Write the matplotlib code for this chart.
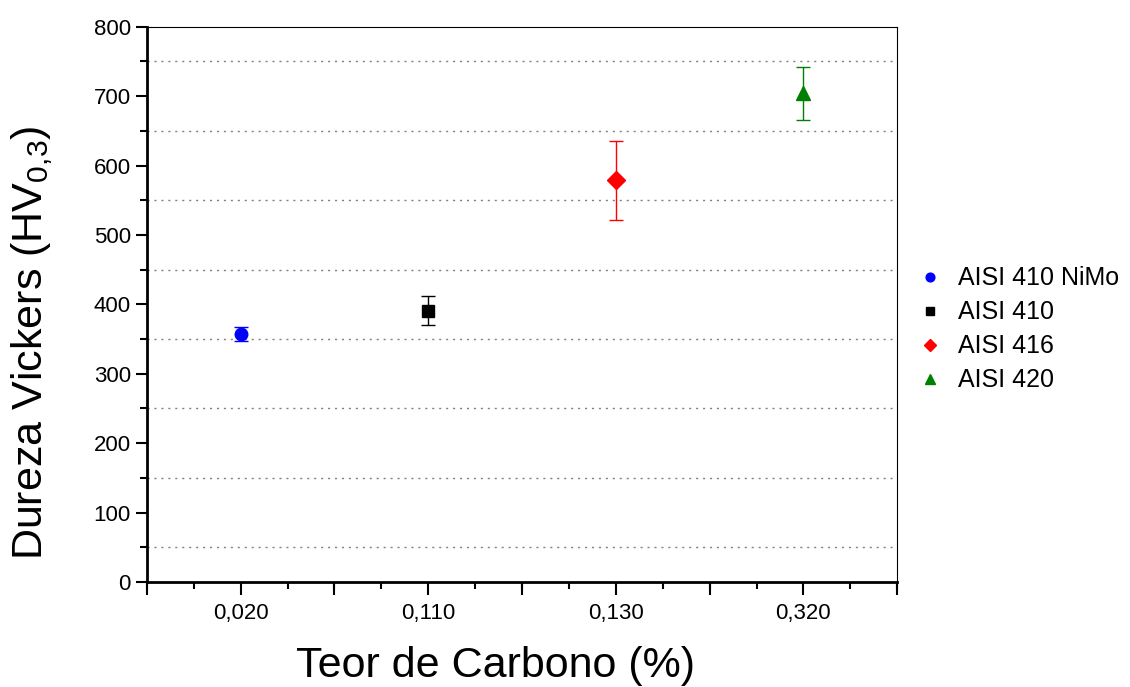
import numpy as np
import matplotlib as mpl
mpl.use('Agg')
import matplotlib.pyplot as plt
from matplotlib.ticker import MultipleLocator, FixedLocator

plt.rcParams['font.family'] = ['Liberation Sans', 'DejaVu Sans']
plt.rcParams['mathtext.fontset'] = 'custom'
plt.rcParams['mathtext.rm'] = 'Liberation Sans'
plt.rcParams['mathtext.it'] = 'Liberation Sans'

# data
labels = ['0,020', '0,110', '0,130', '0,320']
series = ['AISI 410 NiMo', 'AISI 410', 'AISI 416', 'AISI 420']
hv = [357, 391, 579, 704]
hv_err = [10, 21, 57, 38]
colors = ['blue', 'black', 'red', 'green']
markers = ['o', 's', 'D', '^']
msizes = [9, 8, 9, 10]

fig = plt.figure(figsize=(11.3, 6.87), dpi=100)
ax = fig.add_axes([0.130, 0.153, 0.664, 0.808])

pos = np.arange(1, len(labels) + 1)
for i in range(len(series)):
	ax.errorbar(pos[i], hv[i], yerr=hv_err[i], fmt=markers[i], color=colors[i],
		ms=msizes[i], elinewidth=1, capsize=5, capthick=1, label=series[i], zorder=3)

ax.set_xlim(0.5, 4.5)
ax.set_ylim(0, 800)

# x: long ticks every half step, labels only on the categories
ax.xaxis.set_major_locator(FixedLocator(pos))
ax.set_xticklabels(labels)
ax.xaxis.set_minor_locator(MultipleLocator(0.25))
ax.tick_params(axis='x', which='major', length=9, width=1.5, direction='out', labelsize=16, pad=6)
ax.tick_params(axis='x', which='minor', length=5, width=1.5, direction='out')
sec = ax.secondary_xaxis('bottom')
sec.set_xticks(np.arange(0.5, 4.6, 1.0))
sec.set_xticklabels([])
sec.tick_params(length=9, width=1.5, direction='out')
sec.spines['bottom'].set_visible(False)

ax.yaxis.set_major_locator(MultipleLocator(100))
ax.yaxis.set_minor_locator(MultipleLocator(50))
ax.tick_params(axis='y', which='major', length=8, width=1.5, direction='out', labelsize=16)
ax.tick_params(axis='y', which='minor', length=5, width=1.5, direction='out')

ax.grid(which='minor', axis='y', color='gray', linestyle=(0, (1.5, 3.5)), linewidth=1)

ax.spines['left'].set_linewidth(2)
ax.spines['bottom'].set_linewidth(2)
ax.spines['top'].set_linewidth(0.8)
ax.spines['right'].set_linewidth(0.8)

ax.set_xlabel('Teor de Carbono (%)', fontsize=31)
ax.xaxis.set_label_coords(0.464, -0.115)
ax.set_ylabel('Dureza Vickers (HV$_{0{,}3}$)', fontsize=31)
ax.yaxis.set_label_coords(-0.122, 0.43)

handles, lbls = ax.get_legend_handles_labels()
handles = [h[0] for h in handles]
ax.legend(handles, lbls, loc='center left', bbox_to_anchor=(1.0, 0.455), frameon=False,
	fontsize=18, markerscale=0.7, handlelength=0.8, handletextpad=0.75, labelspacing=0.4)

fig.savefig('out.png', dpi=100)
